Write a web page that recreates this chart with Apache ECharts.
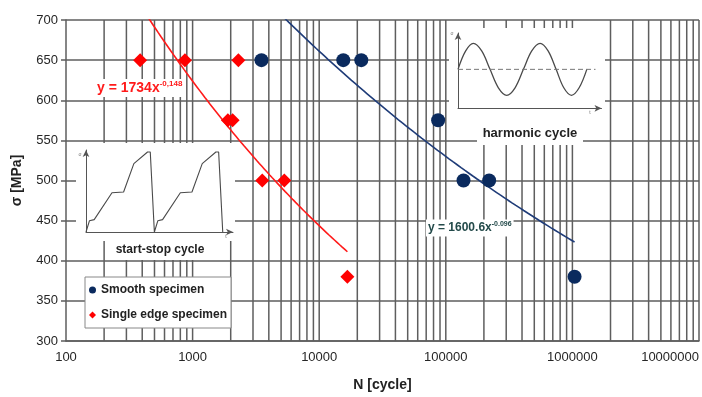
<!DOCTYPE html>
<html>
<head>
<meta charset="utf-8">
<script src="https://cdn.jsdelivr.net/npm/echarts@6/dist/echarts.min.js"></script>
<style>
  html, body { margin: 0; padding: 0; background: #fff; }
  #chart { width: 702px; height: 397px; }
</style>
</head>
<body>
<div id="chart"></div>
<script>
// S-N test results: cycles to failure N vs. stress amplitude sigma
const smoothN = [3500, 15500, 21500, 87000, 138000, 220000, 1040000];
const smoothS = [650, 650, 650, 575, 500, 500, 380];
const edgeN = [385, 870, 2300, 1900, 2070, 3550, 5300, 16700];
const edgeS = [650, 650, 650, 575, 575, 500, 500, 380];

// Power-law trend lines y = a * x^b (as printed on the chart)
const smoothFit = [1600.6, -0.096];
const edgeFit = [1734, -0.148];

// Axis ranges
const nRange = [100, 10000000];
const sRange = [300, 700];
const sStep = 50;

// Inset sketch: start-stop load cycle (time in cycles, load fraction)
const startStopT = [0, 0.05, 0.12, 0.38, 0.55, 0.70, 0.90, 0.94, 1.00, 1.05, 1.12, 1.38, 1.55, 1.70, 1.90, 1.94, 2.00];
const startStopV = [0, 0.14, 0.155, 0.49, 0.50, 0.855, 1.0, 1.0, 0, 0.14, 0.155, 0.49, 0.50, 0.855, 1.0, 1.0, 0];

// Inset sketch: harmonic cycle (time in cycles, normalised stress)
const harmonicT = [0, 0.115, 0.23, 0.355, 0.48, 0.605, 0.73, 0.855, 0.98, 1.105, 1.23, 1.35, 1.47, 1.585, 1.70, 1.815, 1.93];
const harmonicV = [0, 0.71, 1, 0.71, 0, -0.71, -1, -0.71, 0, 0.71, 1, 0.71, 0, -0.71, -1, -0.71, 0];

const FONT = '"Liberation Sans", Arial, sans-serif';
const GRID_COLOR = '#5e5e5e';

// Log grid positions: 2..9 within each decade plus decade lines
const gridN = [];
for (let d = nRange[0]; d < nRange[1]; d *= 10) {
  for (let m = 2; m <= 10; m++) gridN.push(d * m);
}

function fitCurve(coef, nMin, nMax) {
  const pts = [];
  const steps = 80;
  const l0 = Math.log10(nMin), l1 = Math.log10(nMax);
  for (let i = 0; i <= steps; i++) {
    const n = Math.pow(10, l0 + (l1 - l0) * i / steps);
    pts.push([n, coef[0] * Math.pow(n, coef[1])]);
  }
  return pts;
}

const chart = echarts.init(document.getElementById('chart'), null, { renderer: 'canvas' });

const insetAxis = (extra) => Object.assign({
  type: 'value',
  z: 6,
  axisLine: { show: true, onZero: false, symbol: ['none', 'arrow'], symbolSize: [5, 7], lineStyle: { color: '#555', width: 1 } },
  axisTick: { show: false },
  axisLabel: { show: false },
  splitLine: { show: false }
}, extra);

const option = {
  backgroundColor: '#fff',
  animation: false,
  textStyle: { fontFamily: FONT },
  grid: [
    { left: 66, right: 1, top: 20, bottom: 51 },
    { left: 86, top: 150, width: 147, height: 82 },
    { left: 458, top: 33, width: 143.5, height: 75.3 }
  ],
  xAxis: [
    {
      type: 'log', logBase: 10, min: nRange[0], max: nRange[1], gridIndex: 0,
      name: 'N [cycle]', nameLocation: 'middle', nameGap: 37,
      nameTextStyle: { fontFamily: FONT, fontSize: 14, fontWeight: 'bold', color: '#222' },
      axisLine: { show: true, lineStyle: { color: GRID_COLOR, width: 1.5 } },
      axisTick: { show: false },
      axisLabel: {
        fontFamily: FONT, fontSize: 13, color: '#262626', margin: 10, alignMaxLabel: 'right',
        formatter: (v) => String(Math.round(v))
      },
      splitLine: { show: false }
    },
    insetAxis({ gridIndex: 1, min: 0, max: 2.15 }),
    insetAxis({ gridIndex: 2, min: 0, max: 2.15 })
  ],
  yAxis: [
    {
      type: 'value', min: sRange[0], max: sRange[1], interval: sStep, gridIndex: 0,
      name: 'σ [MPa]', nameLocation: 'middle', nameGap: 42, nameRotate: 90,
      nameTextStyle: { fontFamily: FONT, fontSize: 14, fontWeight: 'bold', color: '#222' },
      axisLine: { show: true, lineStyle: { color: GRID_COLOR, width: 1.5 } },
      axisTick: { show: true, length: 5, lineStyle: { color: GRID_COLOR, width: 1.5 } },
      axisLabel: { fontFamily: FONT, fontSize: 13, color: '#262626', margin: 8 },
      splitLine: { show: true, lineStyle: { color: GRID_COLOR, width: 1.5 } }
    },
    insetAxis({ gridIndex: 1, min: 0, max: 1.025 }),
    insetAxis({ gridIndex: 2, min: -1.5, max: 1.4 })
  ],
  legend: {
    left: 85, top: 277,
    orient: 'vertical',
    itemWidth: 7, itemHeight: 7, itemGap: 13,
    padding: [7, 4, 7, 4],
    backgroundColor: '#fff', borderColor: '#888', borderWidth: 1,
    textStyle: { fontFamily: FONT, fontSize: 12, fontWeight: 'bold', color: '#222' },
    data: [
      { name: 'Smooth specimen', icon: 'circle' },
      { name: 'Single edge specimen', icon: 'diamond' }
    ]
  },
  series: [
    {
      // logarithmic vertical grid lines
      type: 'custom', xAxisIndex: 0, yAxisIndex: 0, z: 1, silent: true,
      data: gridN.map(n => [n, sRange[0]]),
      encode: { x: 0, y: 1 },
      renderItem: (params, api) => {
        const n = api.value(0);
        const p1 = api.coord([n, sRange[0]]);
        const p2 = api.coord([n, sRange[1]]);
        return { type: 'line', shape: { x1: p1[0], y1: p1[1], x2: p2[0], y2: p2[1] },
                 style: { stroke: GRID_COLOR, lineWidth: 1.5 } };
      }
    },
    {
      name: 'smooth fit', type: 'line', xAxisIndex: 0, yAxisIndex: 0, z: 3, clip: true,
      showSymbol: false, silent: true,
      data: fitCurve(smoothFit, smoothN[0], smoothN[smoothN.length - 1]),
      lineStyle: { color: '#1f3c78', width: 1.6 }
    },
    {
      name: 'edge fit', type: 'line', xAxisIndex: 0, yAxisIndex: 0, z: 3, clip: true,
      showSymbol: false, silent: true,
      data: fitCurve(edgeFit, Math.min(...edgeN), Math.max(...edgeN)),
      lineStyle: { color: '#ff1a1a', width: 1.6 }
    },
    {
      name: 'Smooth specimen', type: 'scatter', xAxisIndex: 0, yAxisIndex: 0, z: 4,
      symbol: 'circle', symbolSize: 14,
      itemStyle: { color: '#0a2a5e', opacity: 1 },
      data: smoothN.map((n, i) => [n, smoothS[i]])
    },
    {
      name: 'Single edge specimen', type: 'scatter', xAxisIndex: 0, yAxisIndex: 0, z: 4,
      symbol: 'diamond', symbolSize: 14,
      itemStyle: { color: '#ff0000', opacity: 1 },
      data: edgeN.map((n, i) => [n, edgeS[i]])
    },
    {
      type: 'line', xAxisIndex: 1, yAxisIndex: 1, z: 6, silent: true, showSymbol: false,
      data: startStopT.map((t, i) => [t, startStopV[i]]),
      lineStyle: { color: '#4a4a4a', width: 1.1 }
    },
    {
      type: 'line', xAxisIndex: 2, yAxisIndex: 2, z: 6, silent: true, showSymbol: false,
      smooth: 0.35,
      data: harmonicT.map((t, i) => [t, harmonicV[i]]),
      lineStyle: { color: '#4a4a4a', width: 1.3 }
    },
    {
      type: 'line', xAxisIndex: 2, yAxisIndex: 2, z: 6, silent: true, showSymbol: false,
      data: [[0, 0], [2.06, 0]],
      lineStyle: { color: '#777', width: 1, type: [5, 3] }
    }
  ],
  graphic: [
    // white panels behind the inset sketches and their captions
    { type: 'rect', z: 2, silent: true, shape: { x: 76, y: 143, width: 159, height: 98 }, style: { fill: '#fff' } },
    { type: 'rect', z: 2, silent: true, shape: { x: 106, y: 241, width: 123, height: 19 }, style: { fill: '#fff' } },
    { type: 'rect', z: 2, silent: true, shape: { x: 449, y: 28, width: 156, height: 94 }, style: { fill: '#fff' } },
    { type: 'rect', z: 2, silent: true, shape: { x: 477, y: 120, width: 106, height: 25 }, style: { fill: '#fff' } },
    { type: 'text', z: 7, x: 160, y: 250, style: { text: 'start-stop cycle', font: 'bold 12px ' + FONT, fill: '#222', align: 'center', verticalAlign: 'middle' } },
    { type: 'text', z: 7, x: 530, y: 133, style: { text: 'harmonic cycle', font: 'bold 13px ' + FONT, fill: '#222', align: 'center', verticalAlign: 'middle' } },
    { type: 'text', z: 7, x: 80, y: 155, style: { text: 'σ', font: '5px ' + FONT, fill: '#777', align: 'center', verticalAlign: 'middle' } },
    { type: 'text', z: 7, x: 226, y: 237, style: { text: 't', font: '5px ' + FONT, fill: '#777', align: 'center', verticalAlign: 'middle' } },
    { type: 'text', z: 7, x: 452, y: 34, style: { text: 'σ', font: '5px ' + FONT, fill: '#777', align: 'center', verticalAlign: 'middle' } },
    { type: 'text', z: 7, x: 590, y: 113, style: { text: 't', font: '5px ' + FONT, fill: '#777', align: 'center', verticalAlign: 'middle' } },
    // trend line equations
    {
      type: 'text', z: 7, x: 95, y: 88,
      style: {
        text: '{m|y = ' + edgeFit[0] + 'x}{s|' + String(edgeFit[1]).replace('.', ',') + '}',
        fill: '#ff1a1a', verticalAlign: 'middle', backgroundColor: '#fff', padding: [1, 2],
        rich: {
          m: { font: 'bold 14px ' + FONT, fill: '#ff1a1a', lineHeight: 16 },
          s: { font: 'bold 8px ' + FONT, fill: '#ff1a1a', verticalAlign: 'top', lineHeight: 16, padding: [0, 0, 8, 0] }
        }
      }
    },
    {
      type: 'text', z: 7, x: 426, y: 228,
      style: {
        text: '{m|y = ' + smoothFit[0] + 'x}{s|' + smoothFit[1] + '}',
        fill: '#234a4a', verticalAlign: 'middle', backgroundColor: '#fff', padding: [1, 2],
        rich: {
          m: { font: 'bold 12px ' + FONT, fill: '#234a4a', lineHeight: 15 },
          s: { font: 'bold 7px ' + FONT, fill: '#234a4a', verticalAlign: 'top', lineHeight: 15, padding: [0, 0, 7, 0] }
        }
      }
    }
  ]
};

chart.setOption(option);
</script>
</body>
</html>
